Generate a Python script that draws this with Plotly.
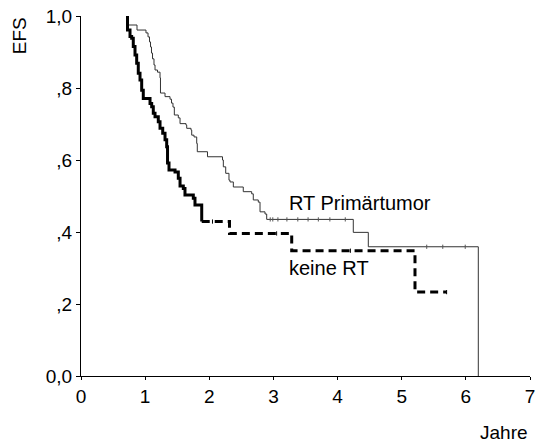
import plotly.graph_objects as go

# Event-free survival step curves (time in years, survival proportion after each step)
rt_t = [0.709, 0.737, 0.873, 1.013, 1.045, 1.068, 1.084, 1.099, 1.115, 1.138, 1.154,
        1.193, 1.232, 1.239, 1.310, 1.388, 1.411, 1.434, 1.455, 1.517, 1.544, 1.637,
        1.648, 1.715, 1.726, 1.762, 1.804, 1.813, 1.972, 2.206, 2.219, 2.256, 2.307,
        2.323, 2.375, 2.530, 2.661, 2.686, 2.764, 2.791, 2.869, 2.895, 4.245, 4.479,
        6.194]
rt_s = [1.000, 0.975, 0.961, 0.953, 0.942, 0.928, 0.914, 0.897, 0.881, 0.864, 0.850,
        0.844, 0.828, 0.786, 0.776, 0.769, 0.758, 0.747, 0.725, 0.717, 0.701, 0.697,
        0.688, 0.683, 0.669, 0.664, 0.646, 0.623, 0.609, 0.600, 0.581, 0.563, 0.544,
        0.539, 0.525, 0.512, 0.506, 0.489, 0.483, 0.456, 0.450, 0.435, 0.399, 0.359,
        0.000]

keine_t = [0.702, 0.725, 0.764, 0.790, 0.815, 0.842, 0.868, 0.893, 0.920, 0.946, 0.971,
           1.076, 1.102, 1.127, 1.154, 1.205, 1.232, 1.274, 1.310, 1.336, 1.349, 1.372,
           1.466, 1.517, 1.544, 1.595, 1.621, 1.751, 1.777, 1.882, 2.315, 3.285, 5.207,
           5.702]
keine_s = [1.000, 0.961, 0.943, 0.938, 0.915, 0.892, 0.869, 0.841, 0.822, 0.794, 0.771,
           0.757, 0.748, 0.730, 0.720, 0.706, 0.688, 0.674, 0.656, 0.637, 0.592, 0.572,
           0.567, 0.549, 0.528, 0.521, 0.503, 0.494, 0.475, 0.429, 0.396, 0.348, 0.233,
           0.233]

# Censored observations
rt_cens_t = [2.95, 2.99, 3.07, 3.21, 3.38, 3.54, 3.70, 3.88, 4.12, 5.39, 5.64, 5.99]
rt_cens_s = [0.435, 0.435, 0.435, 0.435, 0.435, 0.435, 0.435, 0.435, 0.435, 0.359, 0.359, 0.359]
keine_cens_t = [2.05, 3.05, 4.20, 5.70]
keine_cens_s = [0.429, 0.396, 0.348, 0.233]

x_ticks = [0, 1, 2, 3, 4, 5, 6, 7]
y_ticks = [0.0, 0.2, 0.4, 0.6, 0.8, 1.0]
y_tick_text = ["0,0", ",2", ",4", ",6", ",8", "1,0"]

SOLID_UNTIL = 1.9  # early dense part of the "keine RT" curve is drawn solid

FONT = "Arial, Liberation Sans, sans-serif"

fig = go.Figure()

fig.add_trace(go.Scatter(
    x=rt_t, y=rt_s, mode="lines", line=dict(color="#333333", width=1, shape="hv"),
    hoverinfo="skip", showlegend=False))
fig.add_trace(go.Scatter(
    x=rt_cens_t, y=rt_cens_s, mode="markers",
    marker=dict(symbol="line-ns", size=3, line=dict(color="#555555", width=1)),
    hoverinfo="skip", showlegend=False))

solid_idx = [i for i, t in enumerate(keine_t) if t <= SOLID_UNTIL]
last = solid_idx[-1]
fig.add_trace(go.Scatter(
    x=keine_t[:last + 1], y=keine_s[:last + 1], mode="lines",
    line=dict(color="#000000", width=3, shape="hv"),
    hoverinfo="skip", showlegend=False))
fig.add_trace(go.Scatter(
    x=keine_t[last:], y=keine_s[last:], mode="lines",
    line=dict(color="#000000", width=3, shape="hv", dash="8px,5px"),
    hoverinfo="skip", showlegend=False))
fig.add_trace(go.Scatter(
    x=keine_cens_t, y=keine_cens_s, mode="markers",
    marker=dict(symbol="line-ns", size=3, line=dict(color="#000000", width=1)),
    hoverinfo="skip", showlegend=False))

fig.add_annotation(x=3.21, y=0.48, xref="x", yref="y", text="RT Primärtumor",
                   showarrow=False, xanchor="left", yanchor="middle",
                   font=dict(family=FONT, size=20, color="#000000"))
fig.add_annotation(x=3.21, y=0.30, xref="x", yref="y", text="keine RT",
                   showarrow=False, xanchor="left", yanchor="middle",
                   font=dict(family=FONT, size=20, color="#000000"))
fig.add_annotation(x=1.0, y=-0.158, xref="paper", yref="paper", text="Jahre",
                   showarrow=False, xanchor="right", yanchor="middle",
                   font=dict(family=FONT, size=19, color="#000000"))
fig.add_annotation(x=-0.138, y=0.944, xref="paper", yref="paper", text="EFS",
                   showarrow=False, textangle=-90, xanchor="center", yanchor="middle",
                   font=dict(family=FONT, size=19, color="#000000"))

fig.update_layout(
    width=535, height=444,
    margin=dict(l=81, r=5, t=16, b=68, autoexpand=False),
    paper_bgcolor="white", plot_bgcolor="white",
    font=dict(family=FONT, size=19, color="#000000"),
    xaxis=dict(range=[0, 7], tickvals=x_ticks, ticks="outside", ticklen=3,
               tickcolor="#000000", showline=True, linecolor="#000000", linewidth=1,
               showgrid=False, zeroline=False, tickfont=dict(size=19),
               ticklabeloverflow="allow", automargin=False),
    yaxis=dict(range=[0, 1], tickvals=y_ticks, ticktext=y_tick_text, ticks="outside",
               ticklen=4, tickcolor="#000000", showline=True, linecolor="#000000",
               linewidth=1, showgrid=False, zeroline=False, tickfont=dict(size=19),
               ticklabeloverflow="allow", automargin=False),
)

fig.write_html("out.html")
